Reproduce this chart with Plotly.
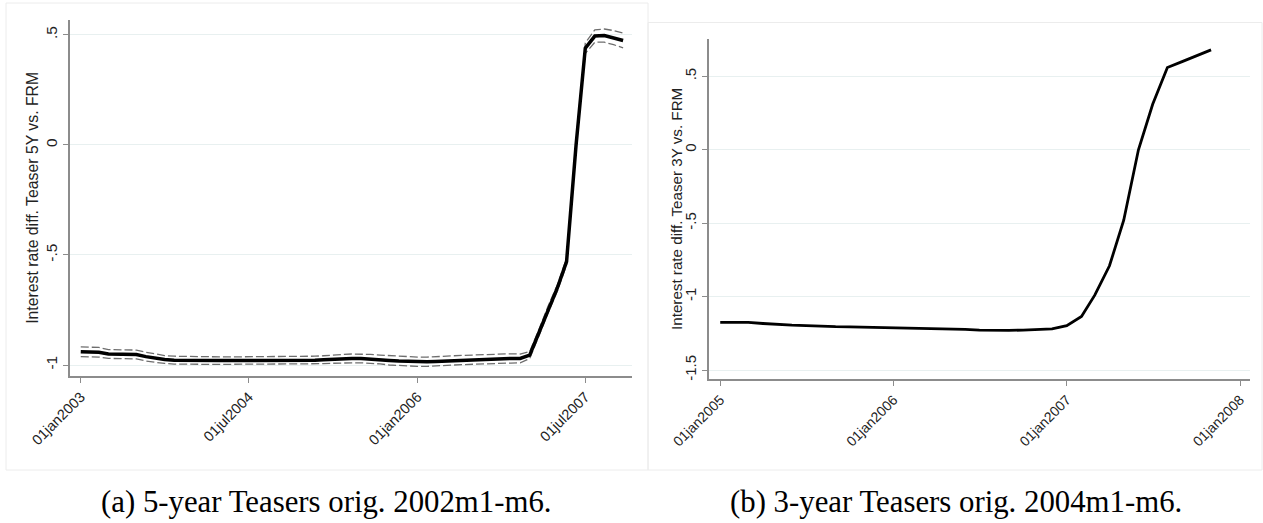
import pandas as pd
import plotly.graph_objects as go

W, H = 1263, 523

# ---------------- data ----------------
months_a = pd.date_range("2003-01-01", "2007-11-01", freq="MS")
diff_5y = [
    -0.940, -0.940, -0.942, -0.950, -0.950, -0.950, -0.952, -0.962, -0.970, -0.975, -0.978, -0.979,  # 2003
    -0.980, -0.980, -0.980, -0.980, -0.980, -0.980, -0.980, -0.980, -0.980, -0.980, -0.980, -0.980,  # 2004
    -0.980, -0.978, -0.976, -0.973, -0.971, -0.970, -0.970, -0.972, -0.975, -0.979, -0.982, -0.984,  # 2005
    -0.985, -0.985, -0.984, -0.982, -0.979, -0.977, -0.975, -0.973, -0.971, -0.970, -0.970, -0.970,  # 2006
    -0.955, -0.850, -0.750, -0.650, -0.530, 0.000, 0.440, 0.495, 0.497, 0.488, 0.475,              # 2007
]
ci_halfwidth_5y = [
    0.022, 0.022, 0.022, 0.020, 0.020, 0.020, 0.020, 0.020, 0.019, 0.018, 0.018, 0.018,
    0.017, 0.017, 0.017, 0.017, 0.017, 0.017, 0.017, 0.017, 0.017, 0.017, 0.017, 0.017,
    0.017, 0.018, 0.018, 0.019, 0.019, 0.020, 0.020, 0.020, 0.020, 0.021, 0.021, 0.021,
    0.021, 0.021, 0.021, 0.021, 0.021, 0.021, 0.021, 0.021, 0.021, 0.021, 0.021, 0.020,
    0.016, 0.015, 0.015, 0.015, 0.015, 0.016, 0.024, 0.028, 0.030, 0.032, 0.034,
]
upper_5y = [v + h for v, h in zip(diff_5y, ci_halfwidth_5y)]
lower_5y = [v - h for v, h in zip(diff_5y, ci_halfwidth_5y)]

months_b = pd.date_range("2005-01-01", "2007-11-01", freq="MS")
diff_3y = [
    -1.175, -1.175, -1.176, -1.183, -1.190, -1.194, -1.197, -1.203, -1.205, -1.206, -1.208, -1.209,  # 2005
    -1.211, -1.214, -1.216, -1.217, -1.219, -1.223, -1.228, -1.231, -1.230, -1.228, -1.226, -1.220,  # 2006
    -1.198, -1.135, -0.990, -0.790, -0.480, 0.000, 0.310, 0.560, 0.600, 0.640, 0.680,                # 2007
]

xtick_vals_a = ["2003-01-01", "2004-07-01", "2006-01-01", "2007-07-01"]
xtick_text_a = ["01jan2003", "01jul2004", "01jan2006", "01jul2007"]
ytick_vals_a = [-1, -0.5, 0, 0.5]
ytick_text_a = ["-1", "-.5", "0", ".5"]

xtick_vals_b = ["2005-01-01", "2006-01-01", "2007-01-01", "2008-01-01"]
xtick_text_b = ["01jan2005", "01jan2006", "01jan2007", "01jan2008"]
ytick_vals_b = [-1.5, -1, -0.5, 0, 0.5]
ytick_text_b = ["-1.5", "-1", "-.5", "0", ".5"]

ytitle_a = "Interest rate diff. Teaser 5Y vs. FRM"
ytitle_b = "Interest rate diff. Teaser 3Y vs. FRM"
caption_a = "(a) 5-year Teasers orig. 2002m1-m6."
caption_b = "(b) 3-year Teasers orig. 2004m1-m6."

# ---------------- figure ----------------
def px_x(p):
    return p / W

def px_y(p):
    return 1 - p / H

fig = go.Figure()
dash_style = dict(color="#6e6e6e", width=1.3, dash="8px,3px")
fig.add_trace(go.Scatter(x=months_a, y=upper_5y, mode="lines", line=dash_style,
                         xaxis="x", yaxis="y", showlegend=False, hoverinfo="skip"))
fig.add_trace(go.Scatter(x=months_a, y=lower_5y, mode="lines", line=dash_style,
                         xaxis="x", yaxis="y", showlegend=False, hoverinfo="skip"))
fig.add_trace(go.Scatter(x=months_a, y=diff_5y, mode="lines",
                         line=dict(color="black", width=3.5),
                         xaxis="x", yaxis="y", showlegend=False))
fig.add_trace(go.Scatter(x=months_b, y=diff_3y, mode="lines",
                         line=dict(color="black", width=2.8),
                         xaxis="x2", yaxis="y2", showlegend=False))

FONT = "Liberation Sans, Arial, sans-serif"
axis_common = dict(showline=True, linecolor="#8c8c8c", linewidth=2, ticks="outside",
                   ticklen=5, tickwidth=1, tickcolor="#8c8c8c",
                   zeroline=False, mirror=False, fixedrange=True, automargin=False)

fig.update_layout(
    template="none",
    width=W, height=H, margin=dict(l=0, r=0, t=0, b=0, pad=0, autoexpand=False),
    paper_bgcolor="white", plot_bgcolor="white", showlegend=False,
    xaxis=dict(domain=[px_x(70), px_x(631.7)], anchor="y",
               range=["2002-11-27", "2007-11-29"], type="date",
               tickvals=xtick_vals_a, ticktext=xtick_text_a, tickangle=-45,
               tickfont=dict(family=FONT, size=14.5, color="#222222"),
               showgrid=False, **axis_common),
    yaxis=dict(domain=[px_y(375.7), px_y(20)], anchor="x",
               range=[-1.0486, 0.568], tickvals=ytick_vals_a, ticktext=ytick_text_a,
               tickangle=-90, showgrid=True, gridcolor="#e8f0f0", gridwidth=1,
               tickfont=dict(family=FONT, size=15.5, color="#222222"),
               **axis_common),
    xaxis2=dict(domain=[px_x(709.3), px_x(1250)], anchor="y2",
                range=["2004-12-09", "2008-01-22"], type="date",
                tickvals=xtick_vals_b, ticktext=xtick_text_b, tickangle=-45,
                tickfont=dict(family=FONT, size=14, color="#222222"),
                showgrid=False, **axis_common),
    yaxis2=dict(domain=[px_y(379.3), px_y(39.3)], anchor="x2",
                range=[-1.563, 0.752], tickvals=ytick_vals_b, ticktext=ytick_text_b,
                tickangle=-90, showgrid=True, gridcolor="#e8f0f0", gridwidth=1,
                tickfont=dict(family=FONT, size=15, color="#222222"),
                **axis_common),
)

cap_font = dict(family="Liberation Serif, Times New Roman, serif", size=30.8, color="black")
annotations = [
    dict(text=ytitle_a, x=px_x(33), y=px_y((20 + 375.7) / 2), xref="paper", yref="paper",
         textangle=-90, showarrow=False, xanchor="center", yanchor="middle",
         font=dict(family=FONT, size=15.8, color="#222222")),
    dict(text=ytitle_b, x=px_x(676.7), y=px_y((39.3 + 379.3) / 2), xref="paper", yref="paper",
         textangle=-90, showarrow=False, xanchor="center", yanchor="middle",
         font=dict(family=FONT, size=15.2, color="#222222")),
    dict(text=caption_a, x=px_x(327), y=px_y(502), xref="paper", yref="paper",
         showarrow=False, xanchor="center", yanchor="middle", font=cap_font),
    dict(text=caption_b, x=px_x(956), y=px_y(502), xref="paper", yref="paper",
         showarrow=False, xanchor="center", yanchor="middle", font=cap_font),
]
fig.update_layout(annotations=annotations)

frame_line = dict(color="#ececec", width=1)
fig.update_layout(shapes=[
    dict(type="rect", xref="paper", yref="paper", x0=px_x(6), x1=px_x(648),
         y0=px_y(470), y1=px_y(3), line=frame_line, layer="below"),
    dict(type="rect", xref="paper", yref="paper", x0=px_x(648), x1=px_x(1262),
         y0=px_y(470), y1=px_y(22.5), line=frame_line, layer="below"),
])

fig.write_html("out.html")
